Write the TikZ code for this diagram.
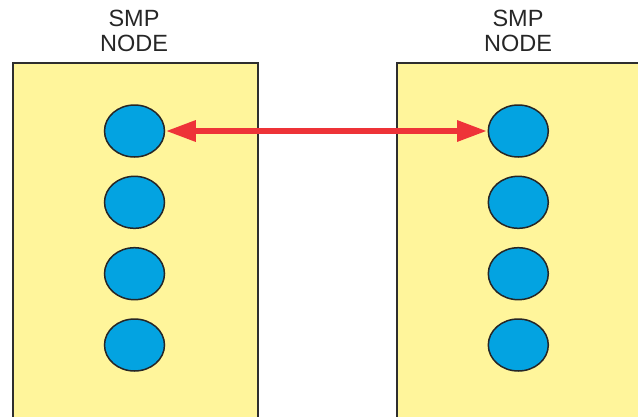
\documentclass[tikz,border=0pt]{standalone}
\usepackage{fontspec}
\setmainfont{Liberation Sans}
\usetikzlibrary{shapes.geometric,arrows.meta}
\definecolor{smpyellow}{HTML}{FFF59B}
\definecolor{cpublue}{HTML}{03A3E1}
\definecolor{linkred}{HTML}{EE3338}
\definecolor{edgegray}{HTML}{2E2E2E}
\tikzset{
  smpbox/.style={draw=edgegray, line width=2pt, fill=smpyellow, rectangle, inner sep=0pt, anchor=north west},
  cpu/.style={draw=black!85, line width=1.5pt, fill=cpublue, ellipse, inner sep=0pt, minimum width=60pt, minimum height=52pt},
  smplabel/.style={align=center, inner sep=0pt, text=black!85, font=\fontsize{23.5}{24.3}\selectfont, anchor=base},
  link/.style={draw=linkred, line width=6pt, {Triangle[length=30pt,width=20pt]}-{Triangle[length=30pt,width=20pt]}, shorten <=0.5pt, shorten >=0.5pt}
}
\begin{document}
\begin{tikzpicture}[x=1pt,y=-1pt]
\useasboundingbox (0,0) rectangle (638,416);
\begin{scope}
\clip (0,0) rectangle (638,416);
\node[smpbox, minimum width=245pt, minimum height=380pt] (leftbox) at (12,62) {};
\node[smpbox, minimum width=270pt, minimum height=380pt] (rightbox) at (396,62) {};
\end{scope}
\node[smplabel] (leftlabel) at (134,51) {SMP\\NODE};
\node[smplabel] (rightlabel) at (518,51) {SMP\\NODE};
\foreach \i/\y in {1/131,2/202.3,3/273.7,4/345}{
  \node[cpu] (l\i) at (134.5,\y) {};
  \node[cpu] (r\i) at (518.3,\y) {};
}
\draw[link] (l1.east) -- (r1.west);
\end{tikzpicture}
\end{document}
